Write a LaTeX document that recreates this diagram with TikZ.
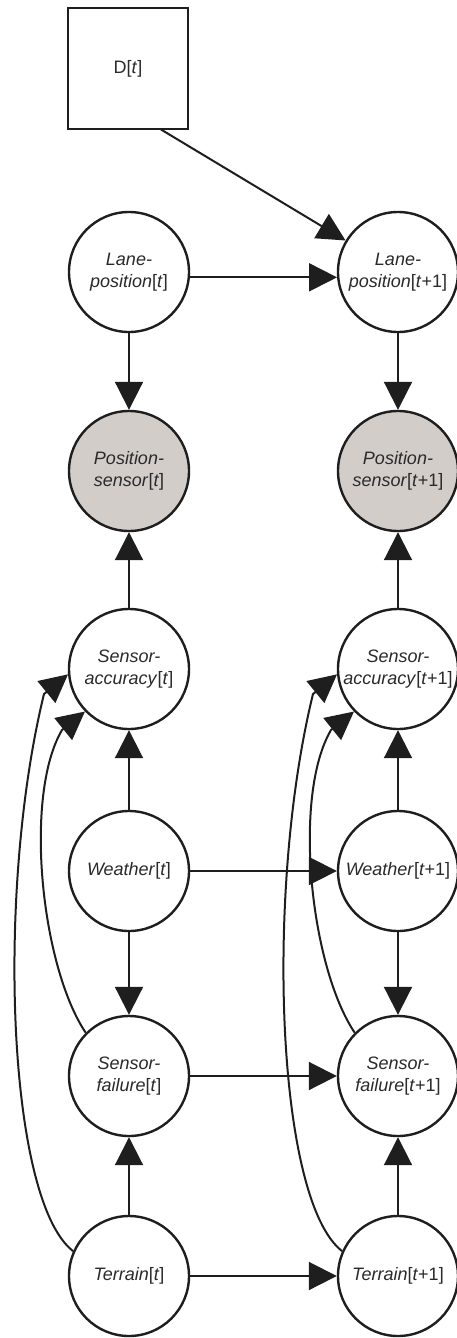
\documentclass[tikz,border=0pt]{standalone}
\usepackage{fontspec}
\setmainfont{Liberation Sans}
\usetikzlibrary{arrows.meta}
\definecolor{ink}{HTML}{1E1E1E}
\definecolor{txt}{HTML}{2A2A2A}
\definecolor{obs}{HTML}{D3CDCA}
\begin{document}
\begin{tikzpicture}[x=1pt,y=-1pt,
  var/.style={circle,draw=ink,line width=2.4pt,fill=white,minimum size=120pt,inner sep=0pt,align=center,font=\fontsize{18}{22}\selectfont,text=txt},
  obsvar/.style={var,fill=obs},
  dec/.style={rectangle,draw=ink,line width=2pt,fill=white,minimum size=120pt,inner sep=0pt,font=\fontsize{18}{22}\selectfont,text=txt},
  arr/.style={draw=ink,line width=2pt,-{Triangle[length=28pt,width=28pt]}}
]
\useasboundingbox (0,0) rectangle (457,1338);

\node[dec] (D) at (128,68.5) {D[\textit{t}]};

\node[var] (L0) at (129,272) {\textit{Lane-}\\\textit{position}[\textit{t}]};
\node[var] (L1) at (398,272) {\textit{Lane-}\\\textit{position}[\textit{t}+1]};
\node[obsvar] (P0) at (129,471) {\textit{Position-}\\\textit{sensor}[\textit{t}]};
\node[obsvar] (P1) at (398,471) {\textit{Position-}\\\textit{sensor}[\textit{t}+1]};
\node[var] (A0) at (129,669) {\textit{Sensor-}\\\textit{accuracy}[\textit{t}]};
\node[var] (A1) at (398,669) {\textit{Sensor-}\\\textit{accuracy}[\textit{t}+1]};
\node[var] (W0) at (129,871) {\textit{Weather}[\textit{t}]};
\node[var] (W1) at (398,871) {\textit{Weather}[\textit{t}+1]};
\node[var] (F0) at (129,1076) {\textit{Sensor-}\\\textit{failure}[\textit{t}]};
\node[var] (F1) at (398,1076) {\textit{Sensor-}\\\textit{failure}[\textit{t}+1]};
\node[var] (T0) at (129,1276) {\textit{Terrain}[\textit{t}]};
\node[var] (T1) at (398,1276) {\textit{Terrain}[\textit{t}+1]};

% decision to next lane position
\draw[arr] ([xshift=33pt]D.south) -- (L1.149);

% temporal links
\draw[arr] (L0.-5) -- (L1.185);
\draw[arr] (W0.east) -- (W1.west);
\draw[arr] (F0.east) -- (F1.west);
\draw[arr] (T0.east) -- (T1.west);

% within-slice links
\draw[arr] (L0.south) -- (P0.north);
\draw[arr] (L1.south) -- (P1.north);
\draw[arr] (A0.north) -- (P0.south);
\draw[arr] (A1.north) -- (P1.south);
\draw[arr] (W0.north) -- (A0.south);
\draw[arr] (W1.north) -- (A1.south);
\draw[arr] (W0.south) -- (F0.north);
\draw[arr] (W1.south) -- (F1.north);
\draw[arr] (T0.north) -- (F0.south);
\draw[arr] (T1.north) -- (F1.south);

% curved links
\draw[arr] (T0.156) .. controls (7,1200) and (-4,890) .. (44,694) -- (A0.185);
\draw[arr] (F0.135) .. controls (41,966) and (23.5,795.5) .. (62,730) -- (A0.224);
\draw[arr] (T1.156) .. controls (276,1200) and (265,890) .. (313,694) -- (A1.185);
\draw[arr] (F1.135) .. controls (310,966) and (292.5,795.5) .. (331,730) -- (A1.224);
\end{tikzpicture}
\end{document}
